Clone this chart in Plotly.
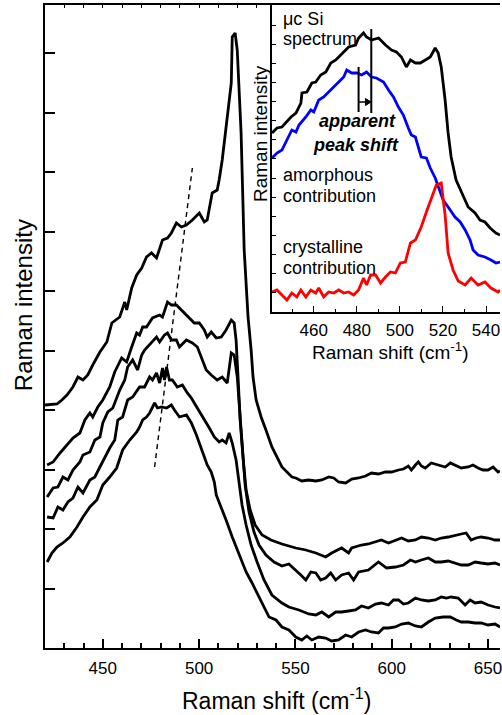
import plotly.graph_objects as go

FONT = "Liberation Sans, Arial, sans-serif"

# ---- main panel: five stacked Raman spectra (arbitrary intensity units) ----
shift_a = [420.0, 423.6, 426.2, 428.8, 431.4, 434.5, 437.1, 439.7, 442.2, 444.8, 448.5, 452.1, 454.7,
           458.8, 461.4, 462.4, 465.0, 467.6, 470.2, 472.7, 475.3, 477.9, 481.0, 483.6, 485.6, 488.2,
           490.8, 493.4, 496.5, 500.1, 502.7, 504.2, 506.8, 509.4, 510.4, 512.0, 514.0, 515.6, 516.7,
           517.2, 518.7, 519.8, 521.8, 523.4, 524.4, 525.4, 527.0, 528.0, 529.6, 532.2, 534.7, 537.8,
           543.0, 545.6, 548.2, 550.2, 553.3, 556.9, 560.6, 563.7, 567.3, 569.9, 572.4, 576.1, 579.2,
           582.8, 586.4, 589.5, 593.1, 596.7, 599.9, 603.5, 606.1, 608.6, 610.2, 612.3, 613.8, 615.4,
           617.4, 620.5, 624.1, 627.8, 630.4, 632.9, 636.1, 639.7, 642.2, 644.8, 647.4, 650.0, 652.6,
           655.2, 656.2]
int_a = [243, 244, 244, 248, 253, 261, 271, 268, 273, 283, 296, 306, 325,
         331, 346, 338, 360, 373, 380, 391, 395, 390, 408, 410, 415, 425,
         421, 423, 428, 435, 426, 428, 455, 458, 468, 488, 521, 548, 565,
         611, 615, 598, 515, 398, 365, 331, 298, 271, 248, 231, 218, 201,
         181, 176, 171, 170, 167, 168, 167, 168, 171, 170, 166, 165, 169,
         170, 172, 175, 174, 176, 176, 178, 179, 182, 178, 183, 186, 182,
         180, 185, 183, 181, 185, 183, 180, 181, 183, 180, 178, 178, 181,
         176, 177]

shift_b = [421.1, 424.2, 427.8, 431.4, 434.5, 438.1, 440.7, 443.3, 444.8, 447.4, 450.0, 453.6, 456.2,
           459.8, 462.4, 465.0, 467.6, 469.1, 470.7, 472.7, 475.8, 479.5, 481.0, 483.6, 485.6, 488.2,
           490.8, 494.9, 497.5, 500.1, 502.7, 504.2, 506.3, 508.9, 511.5, 514.0, 516.7, 518.2, 519.2,
           520.3, 521.3, 522.9, 524.4, 526.5, 529.1, 532.7, 537.3, 543.0, 550.2, 555.4, 560.6, 565.7,
           568.8, 574.0, 577.6, 579.2, 584.3, 587.9, 591.6, 594.6, 598.3, 601.9, 605.1, 608.6, 612.3,
           615.4, 619.0, 622.6, 625.7, 629.3, 632.9, 636.1, 638.6, 641.2, 643.8, 646.4, 650.0, 653.6,
           656.2]
int_b = [183, 186, 195, 203, 210, 215, 228, 235, 231, 241, 248, 261, 276,
         290, 286, 301, 315, 313, 321, 321, 330, 333, 331, 346, 343, 343,
         338, 330, 325, 325, 318, 311, 316, 310, 311, 318, 328, 325, 308,
         268, 228, 188, 158, 138, 123, 113, 108, 104, 100, 98, 95, 91,
         95, 100, 95, 100, 103, 104, 106, 108, 105, 108, 110, 107, 108,
         111, 110, 108, 110, 111, 113, 114, 115, 108, 110, 111, 110, 108,
         108]

shift_c = [421.1, 424.2, 426.7, 429.3, 431.9, 434.5, 438.1, 439.7, 443.3, 445.9, 448.5, 450.0, 452.6,
           455.2, 458.8, 461.4, 462.9, 465.5, 468.1, 470.2, 471.7, 475.3, 477.9, 479.5, 482.0, 483.6,
           485.6, 488.2, 489.8, 493.4, 496.5, 499.1, 501.1, 503.7, 506.3, 509.4, 512.0, 514.6, 516.7,
           518.2, 519.8, 520.8, 522.3, 523.9, 525.9, 528.5, 531.1, 534.7, 538.9, 543.0, 546.6, 550.2,
           552.8, 555.4, 558.0, 560.6, 563.1, 565.7, 568.3, 570.9, 574.0, 577.6, 580.2, 582.8, 587.9,
           593.1, 597.3, 601.9, 606.1, 609.7, 612.3, 615.4, 619.0, 622.6, 625.7, 629.3, 632.9, 636.1,
           639.7, 643.3, 646.4, 650.0, 653.6, 656.2]
int_c = [151, 160, 161, 171, 168, 178, 186, 193, 196, 208, 211, 225, 236,
         240, 258, 268, 281, 288, 278, 293, 298, 306, 311, 306, 313, 315,
         308, 308, 301, 308, 305, 301, 291, 278, 273, 268, 271, 265, 295,
         293, 271, 243, 198, 163, 136, 116, 103, 93, 86, 82, 84, 78,
         73, 68, 76, 75, 68, 70, 75, 68, 73, 75, 68, 76, 78,
         86, 80, 81, 83, 88, 86, 88, 90, 86, 86, 87, 85, 83,
         83, 86, 85, 84, 85, 83]

shift_d = [421.1, 424.2, 426.7, 429.3, 431.9, 434.5, 437.1, 439.7, 443.3, 445.9, 448.5, 451.0, 453.6,
           456.2, 457.8, 460.3, 462.9, 465.5, 469.1, 471.7, 474.3, 475.8, 477.9, 479.5, 481.0, 482.0,
           483.1, 484.6, 486.1, 488.7, 491.3, 493.9, 496.0, 497.5, 499.1, 501.6, 503.7, 505.3, 507.9,
           510.4, 512.0, 514.0, 515.6, 517.2, 519.2, 520.8, 522.3, 524.4, 527.0, 530.1, 533.7, 537.8,
           543.0, 546.6, 551.8, 556.9, 560.6, 563.7, 567.3, 570.9, 574.0, 577.6, 581.2, 584.3, 587.9,
           591.6, 594.6, 598.3, 600.9, 603.5, 606.1, 608.6, 612.3, 615.4, 619.0, 622.6, 625.7, 628.3,
           630.9, 634.5, 638.1, 640.7, 643.3, 646.4, 650.0, 653.6, 656.2]
int_d = [131, 130, 141, 138, 146, 150, 161, 155, 168, 171, 181, 191, 200,
         208, 228, 231, 248, 251, 261, 261, 271, 268, 275, 265, 280, 268,
         281, 268, 268, 261, 263, 255, 250, 245, 240, 231, 225, 220, 211,
         206, 208, 205, 215, 205, 188, 166, 143, 123, 103, 86, 68, 53,
         45, 41, 38, 34, 33, 36, 31, 36, 36, 37, 38, 42, 40,
         44, 45, 43, 48, 48, 44, 45, 50, 48, 47, 48, 51, 50,
         51, 50, 43, 48, 45, 46, 43, 41, 40]

shift_e = [421.1, 423.6, 426.2, 429.3, 432.9, 436.6, 439.7, 443.3, 446.9, 450.0, 453.6, 457.2, 460.3,
           464.0, 467.6, 469.1, 470.7, 472.7, 474.3, 476.9, 478.4, 480.5, 483.1, 485.6, 487.2, 489.8,
           493.4, 496.0, 498.6, 501.6, 504.2, 506.3, 507.9, 508.9, 511.5, 514.0, 517.2, 520.8, 524.4,
           527.5, 530.1, 532.7, 536.3, 539.9, 543.0, 546.6, 550.2, 553.3, 555.9, 558.5, 562.1, 565.7,
           568.8, 572.4, 576.1, 579.2, 582.8, 586.4, 589.5, 593.1, 595.7, 598.3, 601.9, 605.1, 608.6,
           612.3, 615.4, 619.0, 622.6, 626.7, 630.4, 633.5, 636.1, 639.7, 643.3, 646.4, 650.0, 653.6,
           656.2]
int_e = [86, 95, 101, 105, 111, 121, 131, 141, 148, 163, 171, 180, 198,
         208, 216, 221, 228, 231, 235, 245, 240, 241, 240, 243, 238, 231,
         233, 225, 213, 196, 183, 176, 166, 153, 141, 128, 111, 93, 76,
         65, 55, 45, 31, 28, 21, 18, 11, 8, 12, 8, 11, 10,
         7, 8, 13, 11, 16, 18, 16, 15, 20, 20, 21, 24, 25,
         22, 21, 26, 30, 31, 31, 28, 26, 26, 25, 25, 23, 24,
         21]

# guide through the amorphous band maxima
guide_shift = [476.9, 496.5]
guide_int = [181, 480]

# ---- inset: decomposition of one spectrum ----
in_shift_total = [440.6, 442.9, 445.2, 447.1, 449.4, 451.7, 454.0, 454.5, 456.8, 459.1, 460.9, 463.2,
                  465.6, 467.9, 470.2, 472.5, 474.8, 476.2, 479.4, 480.8, 483.1, 484.5, 486.8, 490.1,
                  492.4, 493.3, 496.1, 498.4, 500.7, 503.0, 504.9, 507.2, 509.5, 511.8, 514.1, 516.4,
                  517.8, 519.2, 521.0, 522.4, 523.8, 526.1, 529.4, 531.7, 534.9, 537.2, 539.5, 541.9,
                  544.6, 546.5]
in_int_total = [179, 184, 185, 190, 195, 199, 209, 219, 220, 229, 230, 237,
                240, 249, 252, 257, 262, 265, 267, 274, 279, 275, 272, 274,
                269, 267, 262, 260, 255, 245, 252, 249, 249, 252, 255, 264,
                259, 245, 212, 179, 155, 132, 115, 105, 99, 92, 90, 84,
                79, 77]

in_shift_amorph = [440.6, 442.9, 445.2, 447.5, 449.8, 451.7, 453.1, 456.3, 458.6, 460.0, 462.3, 464.6,
                   466.9, 469.3, 471.6, 473.9, 475.3, 477.6, 479.9, 482.2, 484.5, 486.8, 489.1, 492.4,
                   494.7, 497.0, 499.3, 501.6, 503.9, 505.3, 507.2, 508.6, 509.9, 512.3, 514.1, 516.4,
                   517.8, 520.1, 522.4, 525.6, 528.0, 530.3, 532.6, 534.0, 536.3, 539.5, 542.3, 544.6,
                   546.5]
in_int_amorph = [154, 159, 162, 172, 182, 180, 187, 195, 202, 200, 212, 215,
                 220, 225, 230, 235, 242, 239, 239, 237, 240, 235, 234, 230,
                 222, 215, 205, 197, 184, 177, 175, 164, 155, 154, 144, 134,
                 125, 112, 105, 95, 90, 82, 72, 62, 57, 55, 52, 49,
                 50]

in_shift_cryst = [440.6, 442.9, 445.2, 447.5, 449.8, 452.1, 454.0, 456.3, 458.6, 460.9, 462.3, 464.6,
                  466.9, 469.3, 471.6, 473.9, 476.2, 478.5, 480.8, 483.1, 484.5, 486.4, 488.7, 491.0,
                  493.3, 495.6, 497.9, 500.2, 502.5, 504.9, 507.2, 509.9, 512.3, 514.6, 516.9, 519.2,
                  521.0, 522.4, 524.7, 527.1, 530.3, 533.1, 536.3, 539.5, 542.3, 545.6, 546.5]
in_int_cryst = [20, 22, 17, 12, 19, 15, 22, 15, 22, 19, 24, 15,
                20, 19, 22, 19, 20, 17, 22, 34, 27, 37, 37, 29,
                35, 40, 39, 49, 50, 69, 72, 85, 100, 114, 127, 129,
                97, 59, 42, 31, 27, 34, 27, 30, 24, 20, 22]

fig = go.Figure()

for xs, ys in [(shift_a, int_a), (shift_b, int_b), (shift_c, int_c), (shift_d, int_d), (shift_e, int_e)]:
    fig.add_trace(go.Scatter(x=xs, y=ys, mode="lines", line=dict(color="black", width=2.8),
                             showlegend=False, hoverinfo="skip", xaxis="x", yaxis="y"))

fig.add_trace(go.Scatter(x=guide_shift, y=guide_int, mode="lines",
                         line=dict(color="black", width=1.4, dash="5px,4px"),
                         showlegend=False, hoverinfo="skip", xaxis="x", yaxis="y"))

# empty trace so the top tick axis is rendered
fig.add_trace(go.Scatter(x=[None], y=[None], mode="lines", showlegend=False,
                         hoverinfo="skip", xaxis="x3", yaxis="y"))

for xs, ys, col in [(in_shift_total, in_int_total, "black"),
                    (in_shift_amorph, in_int_amorph, "#0000ff"),
                    (in_shift_cryst, in_int_cryst, "#ff0000")]:
    fig.add_trace(go.Scatter(x=xs, y=ys, mode="lines", line=dict(color=col, width=2.8),
                             showlegend=False, hoverinfo="skip", xaxis="x2", yaxis="y2"))

X_RANGE = [420, 656.2]
axis_common = dict(showgrid=False, zeroline=False, showline=True, linecolor="black",
                   linewidth=2, tickcolor="black")

fig.update_layout(
    width=502, height=715, autosize=False,
    margin=dict(l=45, r=0, t=5, b=67),
    paper_bgcolor="white", plot_bgcolor="white",
    font=dict(family=FONT, color="black"),
    xaxis=dict(domain=[0, 1], range=X_RANGE, anchor="y", ticks="inside", ticklen=9, tickwidth=1.5,
               tick0=0, dtick=50, tickfont=dict(size=17, family=FONT), ticklabelstandoff=4,
               ticklabeloverflow="allow",
               minor=dict(ticks="inside", ticklen=5, tickwidth=1.5, dtick=10, tick0=0,
                          tickcolor="black"),
               **axis_common),
    xaxis3=dict(overlaying="x", side="top", anchor="y", range=X_RANGE, ticks="inside", ticklen=3,
                tickwidth=1.2, tick0=0, dtick=10, showticklabels=False, **axis_common),
    yaxis=dict(domain=[0, 1], range=[0, 643], anchor="x", ticks="inside", ticklen=10, tickwidth=1.5,
               tick0=0, dtick=59.5, showticklabels=False, **axis_common),
    xaxis2=dict(domain=[228 / 457, 1], range=[440.58, 546.5], anchor="y2", ticks="inside",
                ticklen=6, tickwidth=1.3, tick0=0, dtick=20, tickfont=dict(size=17, family=FONT),
                ticklabelstandoff=2, ticklabeloverflow="allow",
                minor=dict(ticks="inside", ticklen=3.5, tickwidth=1.3, dtick=10, tick0=0,
                           tickcolor="black"),
                **axis_common),
    yaxis2=dict(domain=[336 / 643, 1], range=[0, 307], anchor="x2", ticks="inside", ticklen=3.5,
                tickwidth=1.3, tick0=0, dtick=287 / 15, showticklabels=False, **axis_common),
)

# peak-shift markers in the inset: two position bars and a small arrow between them
fig.add_shape(type="line", xref="x2", yref="y2", x0=480.8, x1=480.8, y0=200, y1=245,
              line=dict(color="black", width=2))
fig.add_shape(type="line", xref="x2", yref="y2", x0=486.7, x1=486.7, y0=199, y1=283,
              line=dict(color="black", width=2))
fig.add_shape(type="line", xref="x2", yref="y2", x0=480.8, x1=484.6, y0=210, y1=210,
              line=dict(color="black", width=1.5))
fig.add_shape(type="path", xref="x2", yref="y2",
              path="M 484.0,206.5 L 486.6,210 L 484.0,213.5 Z",
              fillcolor="black", line=dict(color="black", width=1))

inset_labels = [
    ("\u03bcc Si", 293), ("spectrum", 273),
    ("amorphous", 137), ("contribution", 116),
    ("crystalline", 65), ("contribution", 44),
]
for txt, yv in inset_labels:
    fig.add_annotation(xref="x2", yref="y2", x=444.7, y=yv, text=txt, showarrow=False,
                       xanchor="left", yanchor="middle", font=dict(size=18, family=FONT))

fig.add_annotation(xref="x2", yref="y2", x=480.1, y=191, text="<b><i>apparent</i></b>",
                   showarrow=False, xanchor="center", yanchor="middle",
                   font=dict(size=18, family=FONT))
fig.add_annotation(xref="x2", yref="y2", x=479.6, y=167, text="<b><i>peak shift</i></b>",
                   showarrow=False, xanchor="center", yanchor="middle",
                   font=dict(size=18, family=FONT))

# axis titles
fig.add_annotation(xref="paper", yref="paper", x=0.5088, y=-0.0793,
                   text="Raman shift (cm<sup>-1</sup>)", showarrow=False,
                   xanchor="center", yanchor="middle", font=dict(size=23, family=FONT))
fig.add_annotation(xref="paper", yref="paper", x=-0.0481, y=0.5334, text="Raman intensity",
                   showarrow=False, textangle=-90, xanchor="center", yanchor="middle",
                   font=dict(size=24, family=FONT))
fig.add_annotation(xref="paper", yref="paper", x=0.7582, y=0.4619,
                   text="Raman shift (cm<sup>-1</sup>)", showarrow=False,
                   xanchor="center", yanchor="middle", font=dict(size=19, family=FONT))
fig.add_annotation(xref="paper", yref="paper", x=0.4748, y=0.7994, text="Raman intensity",
                   showarrow=False, textangle=-90, xanchor="center", yanchor="middle",
                   font=dict(size=19, family=FONT))

fig.write_html("out.html")
